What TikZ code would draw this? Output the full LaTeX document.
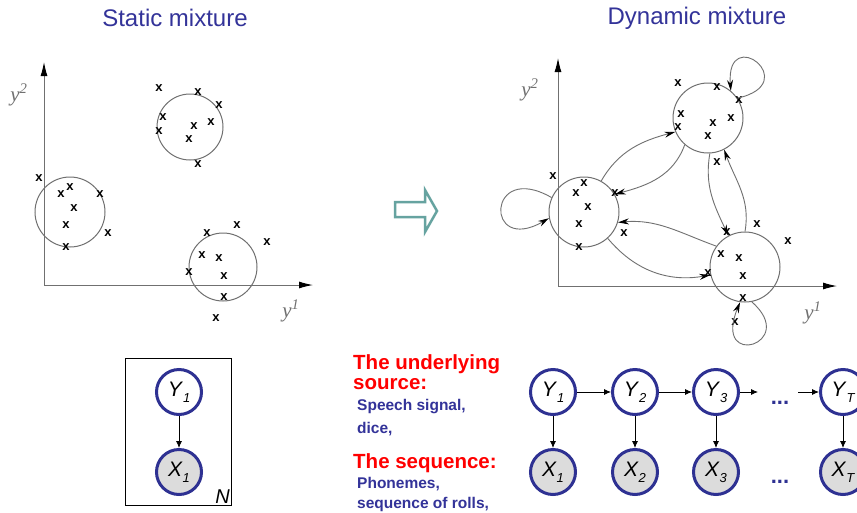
\documentclass[tikz,border=0pt]{standalone}
\usepackage{fontspec}
\setmainfont{Liberation Sans}
\newfontfamily\axisfont{Liberation Serif}
\usetikzlibrary{arrows.meta,positioning}
\definecolor{Navy}{HTML}{2E3192}
\definecolor{Slate}{HTML}{333399}
\definecolor{Scarlet}{HTML}{FF0000}
\definecolor{LineGray}{HTML}{707070}
\definecolor{ShadeGray}{HTML}{DCDCDC}
\definecolor{SeaTeal}{HTML}{66A3A0}
\newcommand{\fs}[1]{\fontsize{#1}{#1}\selectfont}
\newcommand{\rv}[2]{\textit{#1}\raisebox{-0.3em}{\fs{13}\itshape #2}}

\begin{document}
\begin{tikzpicture}[x=1pt,y=1pt,
    cluster/.style={circle,draw=LineGray,line width=1pt,inner sep=0pt},
    xmark/.style={font=\fs{13}\bfseries,inner sep=0pt},
    axis/.style={draw=LineGray,line width=1pt,-{Latex[length=14pt,width=7pt,color=black]}},
    axlabel/.style={font=\axisfont\itshape\fs{21},text=LineGray},
    hop/.style={draw=LineGray,line width=0.9pt,-{Stealth[length=11pt,width=6pt,color=black]}},
    hid/.style={circle,draw=Navy,line width=3pt,minimum size=45pt,inner sep=0pt,fill=white,font=\fs{21}},
    obs/.style={hid,fill=ShadeGray},
    link/.style={line width=0.8pt,-{Latex[length=7pt,width=6pt]}},
    title/.style={text=Slate,font=\fs{24}},
    head/.style={text=Scarlet,font=\bfseries\fs{20.5},anchor=base west,inner sep=0pt},
    note/.style={text=Slate,font=\bfseries\fs{15.5},anchor=base west,inner sep=0pt}]
  \clip (0,0) rectangle (857,-512);
  \fill[white] (0,0) rectangle (857,-512);

  \node[title] (st) at (175,-18) {Static mixture};
  \node[title] (dt) at (697,-18) {Dynamic mixture};

  \coordinate (so) at (44,-285);
  \coordinate (sy) at (44,-62);
  \coordinate (sx) at (313,-285);
  \draw[axis] (so) -- (sy);
  \draw[axis] (so) -- (sx);
  \node[axlabel] (sy2) at (19,-95) {y\textsuperscript{2}};
  \node[axlabel] (sy1) at (291,-311) {y\textsuperscript{1}};

  \node[cluster,minimum size=70pt] (sa) at (70,-212) {};
  \node[cluster,minimum size=66pt] (sb) at (190,-127) {};
  \node[cluster,minimum size=68pt] (sc) at (223,-267) {};
  \foreach \p [count=\i] in {(39,-178),(70,-187),(61,-194),(100,-194),(74,-208),
      (66,-225),(108,-233),(66,-247),(159,-88),(198,-92),(219,-105),(163,-117),
      (159,-131),(194,-126),(211,-122),(189,-139),(198,-164),(207,-233),(237,-225),
      (267,-242),(202,-255),(219,-258),(189,-272),(224,-276),(224,-297),(216,-318)}
    \node[xmark] (ms\i) at \p {x};

  \draw[SeaTeal,line width=2.5pt,line join=miter] (395,-202) -- (425,-202)
    -- (425,-190) -- (437,-211) -- (425,-232) -- (425,-217) -- (395,-217) -- cycle;

  \coordinate (do) at (558,-286);
  \coordinate (dy) at (558,-58);
  \coordinate (dx) at (837,-286);
  \draw[axis] (do) -- (dy);
  \draw[axis] (do) -- (dx);
  \node[axlabel] (dy2) at (530,-90) {y\textsuperscript{2}};
  \node[axlabel] (dy1) at (813,-313) {y\textsuperscript{1}};

  \node[cluster,minimum size=70pt] (cl) at (584,-212) {};
  \node[cluster,minimum size=70pt] (ct) at (708,-118) {};
  \node[cluster,minimum size=70pt] (cr) at (745,-267) {};
  \foreach \p [count=\i] in {(678,-83),(717,-87),(739,-100),(681,-114),(678,-127),
      (713,-123),(731,-118),(708,-136),(717,-162),(553,-176),(584,-183),(576,-193),
      (615,-193),(588,-207),(579,-224),(624,-233),(579,-247),(727,-232),(757,-224),
      (788,-241),(721,-254),(739,-258),(708,-273),(743,-276),(743,-298),(735,-322)}
    \node[xmark] (md\i) at \p {x};

  \draw[hop] (cl.61) to[out=60,in=195] (ct.203);
  \draw[hop] (ct.229) to[out=250,in=15] (cl.30);
  \draw[hop] (cr.144) to[out=160,in=5] (cl.343);
  \draw[hop] (cl.312) to[out=-50,in=190] (cr.193);
  \draw[hop] (ct.273) to[out=260,in=115] (cr.118);
  \draw[hop] (cr.90) to[out=80,in=290] (ct.297);
  \draw[hop] (ct.34) .. controls +(67,15) and +(-5,68) .. (ct.50);
  \draw[hop] (cl.156) to[out=150,in=210,distance=75pt] (cl.190);
  \draw[hop] (cr.281) .. controls +(48,-42) and +(-28,-68) .. (cr.262);

  \draw[line width=0.8pt] (125,-358) rectangle (231,-505);
  \node[font=\itshape\fs{20},anchor=south east,inner sep=1pt] (pn) at (231,-505) {N};
  \node[hid] (py) at (179,-392) {\rv{Y}{1}};
  \node[obs] (px) at (179,-472) {\rv{X}{1}};
  \draw[link] (py) -- (px);

  \node[head] (src1) at (353,-369) {The underlying};
  \node[head] (src2) at (353,-389) {source:};
  \node[note] (src3) at (357,-410) {Speech signal,};
  \node[note] (src4) at (357,-433) {dice,};
  \node[head] (seq1) at (353,-468) {The sequence:};
  \node[note] (seq2) at (357,-488) {Phonemes,};
  \node[note] (seq3) at (357,-508) {sequence of rolls,};

  \foreach \k/\x in {1/553,2/635,3/716,T/843} {
    \node[hid] (y\k) at (\x,-392) {\rv{Y}{\k}};
    \node[obs] (x\k) at (\x,-472) {\rv{X}{\k}};
    \draw[link] (y\k) -- (x\k);
  }
  \coordinate (g3) at (758,-392);
  \coordinate (gT) at (798,-392);
  \draw[link] (y1) -- (y2);
  \draw[link] (y2) -- (y3);
  \draw[link] (y3) -- (g3);
  \draw[link] (gT) -- (yT);
  \node[text=Navy,font=\bfseries\fs{22}] (ud) at (780,-403) {...};
  \node[text=Navy,font=\bfseries\fs{22}] (ld) at (780,-482) {...};
\end{tikzpicture}
\end{document}
